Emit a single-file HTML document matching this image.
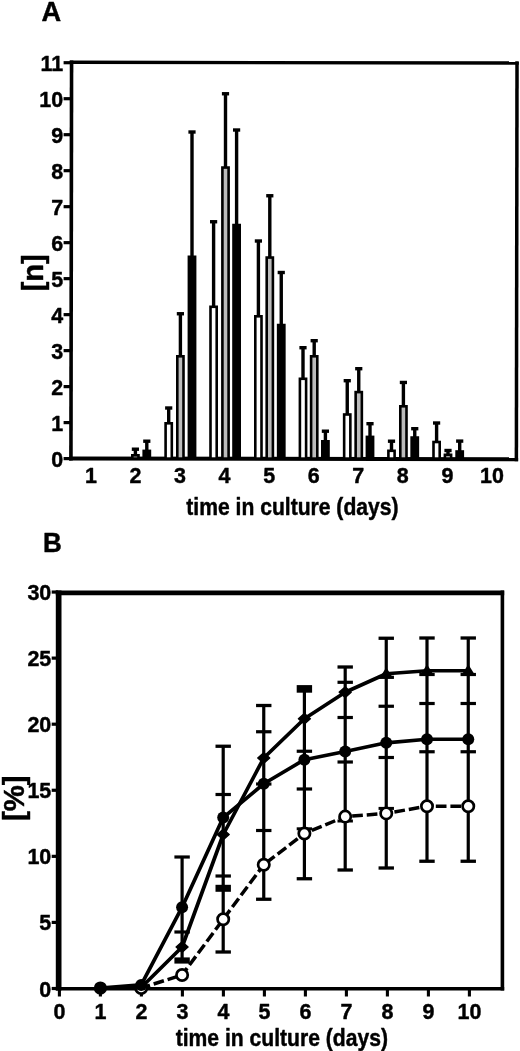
<!DOCTYPE html>
<html><head><meta charset="utf-8"><title>Figure</title>
<style>
html,body{margin:0;padding:0;background:#fff;}
svg{display:block;filter:blur(0.45px);}
text{font-family:"Liberation Sans",Arial,Helvetica,sans-serif;font-weight:bold;fill:#000;stroke:#000;stroke-width:0.45px;stroke-linejoin:round;}
.k{stroke:#000;fill:none;}
</style></head><body>
<svg width="520" height="1051" viewBox="0 0 520 1051">
<rect x="0" y="0" width="520" height="1051" fill="#fff"/>

<text transform="translate(41.5 20.5) scale(1.0 1)" font-size="27.2">A</text>
<g class="k" transform="rotate(0.09 294 260.6)">
<path stroke-width="3.6" d="M71.25 60.95V460.9"/>
<path stroke-width="3.4" d="M69.45 62.65H518.45"/>
<path stroke-width="3.5" d="M516.7 60.95V460.9"/>
<path stroke-width="4.1" d="M69.45 458.85H518.45"/>
</g>
<path class="k" stroke-width="3.2" d="M63.6 458.60H71"/>
<text transform="translate(63.2 466.50) scale(0.95 1)" font-size="22.6" text-anchor="end">0</text>
<path class="k" stroke-width="3.2" d="M63.6 422.61H71"/>
<text transform="translate(63.2 430.51) scale(0.95 1)" font-size="22.6" text-anchor="end">1</text>
<path class="k" stroke-width="3.2" d="M63.6 386.62H71"/>
<text transform="translate(63.2 394.52) scale(0.95 1)" font-size="22.6" text-anchor="end">2</text>
<path class="k" stroke-width="3.2" d="M63.6 350.63H71"/>
<text transform="translate(63.2 358.53) scale(0.95 1)" font-size="22.6" text-anchor="end">3</text>
<path class="k" stroke-width="3.2" d="M63.6 314.64H71"/>
<text transform="translate(63.2 322.54) scale(0.95 1)" font-size="22.6" text-anchor="end">4</text>
<path class="k" stroke-width="3.2" d="M63.6 278.65H71"/>
<text transform="translate(63.2 286.55) scale(0.95 1)" font-size="22.6" text-anchor="end">5</text>
<path class="k" stroke-width="3.2" d="M63.6 242.66H71"/>
<text transform="translate(63.2 250.56) scale(0.95 1)" font-size="22.6" text-anchor="end">6</text>
<path class="k" stroke-width="3.2" d="M63.6 206.67H71"/>
<text transform="translate(63.2 214.57) scale(0.95 1)" font-size="22.6" text-anchor="end">7</text>
<path class="k" stroke-width="3.2" d="M63.6 170.68H71"/>
<text transform="translate(63.2 178.58) scale(0.95 1)" font-size="22.6" text-anchor="end">8</text>
<path class="k" stroke-width="3.2" d="M63.6 134.69H71"/>
<text transform="translate(63.2 142.59) scale(0.95 1)" font-size="22.6" text-anchor="end">9</text>
<path class="k" stroke-width="3.2" d="M63.6 98.70H71"/>
<text transform="translate(63.2 106.60) scale(0.95 1)" font-size="22.6" text-anchor="end">10</text>
<path class="k" stroke-width="3.2" d="M63.6 62.71H71"/>
<text transform="translate(63.2 70.61) scale(0.95 1)" font-size="22.6" text-anchor="end">11</text>
<text transform="translate(90.90 482.6) scale(0.95 1)" font-size="22.6" text-anchor="middle">1</text>
<text transform="translate(135.46 482.6) scale(0.95 1)" font-size="22.6" text-anchor="middle">2</text>
<text transform="translate(180.02 482.6) scale(0.95 1)" font-size="22.6" text-anchor="middle">3</text>
<text transform="translate(224.58 482.6) scale(0.95 1)" font-size="22.6" text-anchor="middle">4</text>
<text transform="translate(269.14 482.6) scale(0.95 1)" font-size="22.6" text-anchor="middle">5</text>
<text transform="translate(313.70 482.6) scale(0.95 1)" font-size="22.6" text-anchor="middle">6</text>
<text transform="translate(358.26 482.6) scale(0.95 1)" font-size="22.6" text-anchor="middle">7</text>
<text transform="translate(402.82 482.6) scale(0.95 1)" font-size="22.6" text-anchor="middle">8</text>
<text transform="translate(447.38 482.6) scale(0.95 1)" font-size="22.6" text-anchor="middle">9</text>
<text transform="translate(491.94 482.6) scale(0.95 1)" font-size="22.6" text-anchor="middle">10</text>
<text transform="translate(292.4 514.6) scale(0.91 1)" font-size="23.2" text-anchor="middle">time in culture (days)</text>
<text transform="translate(42.6 272.8) rotate(-90)" font-size="29" stroke-width="1" text-anchor="middle">[n]</text>
<path class="k" stroke-width="3.4" d="M135.4 455V449.2"/>
<path class="k" stroke-width="3.4" d="M131.8 449.2H139.0"/>
<rect x="132.30" y="455.30" width="6.2" height="3.30" fill="#bcbcbc" stroke="#000" stroke-width="2.6"/>
<path class="k" stroke-width="3.4" d="M146.8 450.6V441.2"/>
<path class="k" stroke-width="3.4" d="M143.20000000000002 441.2H150.4"/>
<rect x="143.70" y="450.90" width="6.2" height="7.70" fill="#000" stroke="#000" stroke-width="2.6"/>
<path class="k" stroke-width="3.4" d="M168.7 423V408"/>
<path class="k" stroke-width="3.4" d="M165.1 408H172.29999999999998"/>
<rect x="165.60" y="423.30" width="6.2" height="35.30" fill="#fff" stroke="#000" stroke-width="2.6"/>
<path class="k" stroke-width="3.4" d="M180.4 356V313.75"/>
<path class="k" stroke-width="3.4" d="M176.8 313.75H184.0"/>
<rect x="177.30" y="356.30" width="6.2" height="102.30" fill="#bcbcbc" stroke="#000" stroke-width="2.6"/>
<path class="k" stroke-width="3.4" d="M192 256.5V132"/>
<path class="k" stroke-width="3.4" d="M188.4 132H195.6"/>
<rect x="188.90" y="256.80" width="6.2" height="201.80" fill="#000" stroke="#000" stroke-width="2.6"/>
<path class="k" stroke-width="3.4" d="M213.6 306.5V221.75"/>
<path class="k" stroke-width="3.4" d="M210.0 221.75H217.2"/>
<rect x="210.50" y="306.80" width="6.2" height="151.80" fill="#fff" stroke="#000" stroke-width="2.6"/>
<path class="k" stroke-width="3.4" d="M225.5 167.25V93.75"/>
<path class="k" stroke-width="3.4" d="M221.9 93.75H229.1"/>
<rect x="222.40" y="167.55" width="6.2" height="291.05" fill="#bcbcbc" stroke="#000" stroke-width="2.6"/>
<path class="k" stroke-width="3.4" d="M236.6 224.75V130"/>
<path class="k" stroke-width="3.4" d="M233.0 130H240.2"/>
<rect x="233.50" y="225.05" width="6.2" height="233.55" fill="#000" stroke="#000" stroke-width="2.6"/>
<path class="k" stroke-width="3.4" d="M258.4 316V241"/>
<path class="k" stroke-width="3.4" d="M254.79999999999998 241H262.0"/>
<rect x="255.30" y="316.30" width="6.2" height="142.30" fill="#fff" stroke="#000" stroke-width="2.6"/>
<path class="k" stroke-width="3.4" d="M269.8 257.25V195.75"/>
<path class="k" stroke-width="3.4" d="M266.2 195.75H273.40000000000003"/>
<rect x="266.70" y="257.55" width="6.2" height="201.05" fill="#bcbcbc" stroke="#000" stroke-width="2.6"/>
<path class="k" stroke-width="3.4" d="M281.25 324.75V272.5"/>
<path class="k" stroke-width="3.4" d="M277.65 272.5H284.85"/>
<rect x="278.15" y="325.05" width="6.2" height="133.55" fill="#000" stroke="#000" stroke-width="2.6"/>
<path class="k" stroke-width="3.4" d="M303 378.5V347.7"/>
<path class="k" stroke-width="3.4" d="M299.4 347.7H306.6"/>
<rect x="299.90" y="378.80" width="6.2" height="79.80" fill="#fff" stroke="#000" stroke-width="2.6"/>
<path class="k" stroke-width="3.4" d="M314.2 356V340.7"/>
<path class="k" stroke-width="3.4" d="M310.59999999999997 340.7H317.8"/>
<rect x="311.10" y="356.30" width="6.2" height="102.30" fill="#bcbcbc" stroke="#000" stroke-width="2.6"/>
<path class="k" stroke-width="3.4" d="M325.4 441V431.2"/>
<path class="k" stroke-width="3.4" d="M321.79999999999995 431.2H329.0"/>
<rect x="322.30" y="441.30" width="6.2" height="17.30" fill="#000" stroke="#000" stroke-width="2.6"/>
<path class="k" stroke-width="3.4" d="M347.25 414.2V380.7"/>
<path class="k" stroke-width="3.4" d="M343.65 380.7H350.85"/>
<rect x="344.15" y="414.50" width="6.2" height="44.10" fill="#fff" stroke="#000" stroke-width="2.6"/>
<path class="k" stroke-width="3.4" d="M358.75 391.8V368.7"/>
<path class="k" stroke-width="3.4" d="M355.15 368.7H362.35"/>
<rect x="355.65" y="392.10" width="6.2" height="66.50" fill="#bcbcbc" stroke="#000" stroke-width="2.6"/>
<path class="k" stroke-width="3.4" d="M370 436.6V423.7"/>
<path class="k" stroke-width="3.4" d="M366.4 423.7H373.6"/>
<rect x="366.90" y="436.90" width="6.2" height="21.70" fill="#000" stroke="#000" stroke-width="2.6"/>
<path class="k" stroke-width="3.4" d="M391.5 450.5V441.2"/>
<path class="k" stroke-width="3.4" d="M387.9 441.2H395.1"/>
<rect x="388.40" y="450.80" width="6.2" height="7.80" fill="#fff" stroke="#000" stroke-width="2.6"/>
<path class="k" stroke-width="3.4" d="M403.4 406V382.45"/>
<path class="k" stroke-width="3.4" d="M399.79999999999995 382.45H407.0"/>
<rect x="400.30" y="406.30" width="6.2" height="52.30" fill="#bcbcbc" stroke="#000" stroke-width="2.6"/>
<path class="k" stroke-width="3.4" d="M414.75 437.25V428.7"/>
<path class="k" stroke-width="3.4" d="M411.15 428.7H418.35"/>
<rect x="411.65" y="437.55" width="6.2" height="21.05" fill="#000" stroke="#000" stroke-width="2.6"/>
<path class="k" stroke-width="3.4" d="M436.6 441.7V423.0"/>
<path class="k" stroke-width="3.4" d="M433.0 423.0H440.20000000000005"/>
<rect x="433.50" y="442.00" width="6.2" height="16.60" fill="#fff" stroke="#000" stroke-width="2.6"/>
<path class="k" stroke-width="3.4" d="M448 454.5V450.5"/>
<path class="k" stroke-width="3.4" d="M444.4 450.5H451.6"/>
<rect x="444.90" y="454.80" width="6.2" height="3.80" fill="#bcbcbc" stroke="#000" stroke-width="2.6"/>
<path class="k" stroke-width="3.4" d="M459.7 451.2V441.09999999999997"/>
<path class="k" stroke-width="3.4" d="M456.09999999999997 441.09999999999997H463.3"/>
<rect x="456.60" y="451.50" width="6.2" height="7.10" fill="#000" stroke="#000" stroke-width="2.6"/>
<text transform="translate(42.9 551.6) scale(0.93 1)" font-size="28">B</text>
<g class="k">
<path stroke-width="5.7" d="M58.65 590.55V990.4"/>
<path stroke-width="4.7" d="M55.8 592.9H504.2"/>
<path stroke-width="3.6" d="M502.4 590.55V990.4"/>
<path stroke-width="3.5" d="M55.8 988.65H504.2"/>
</g>
<path class="k" stroke-width="3.2" d="M51.7 988.50H58"/>
<text transform="translate(51.3 996.50) scale(0.95 1)" font-size="22.6" text-anchor="end">0</text>
<path class="k" stroke-width="3.2" d="M51.7 922.42H58"/>
<text transform="translate(51.3 930.42) scale(0.95 1)" font-size="22.6" text-anchor="end">5</text>
<path class="k" stroke-width="3.2" d="M51.7 856.35H58"/>
<text transform="translate(51.3 864.35) scale(0.95 1)" font-size="22.6" text-anchor="end">10</text>
<path class="k" stroke-width="3.2" d="M51.7 790.27H58"/>
<text transform="translate(51.3 798.27) scale(0.95 1)" font-size="22.6" text-anchor="end">15</text>
<path class="k" stroke-width="3.2" d="M51.7 724.20H58"/>
<text transform="translate(51.3 732.20) scale(0.95 1)" font-size="22.6" text-anchor="end">20</text>
<path class="k" stroke-width="3.2" d="M51.7 658.12H58"/>
<text transform="translate(51.3 666.12) scale(0.95 1)" font-size="22.6" text-anchor="end">25</text>
<path class="k" stroke-width="3.2" d="M51.7 592.05H58"/>
<text transform="translate(51.3 600.05) scale(0.95 1)" font-size="22.6" text-anchor="end">30</text>
<path class="k" stroke-width="3.1" d="M59.40 988.4V996.5"/>
<text transform="translate(59.40 1018.8) scale(0.95 1)" font-size="22.6" text-anchor="middle">0</text>
<path class="k" stroke-width="3.1" d="M100.40 988.4V996.5"/>
<text transform="translate(100.40 1018.8) scale(0.95 1)" font-size="22.6" text-anchor="middle">1</text>
<path class="k" stroke-width="3.1" d="M141.40 988.4V996.5"/>
<text transform="translate(141.40 1018.8) scale(0.95 1)" font-size="22.6" text-anchor="middle">2</text>
<path class="k" stroke-width="3.1" d="M182.40 988.4V996.5"/>
<text transform="translate(182.40 1018.8) scale(0.95 1)" font-size="22.6" text-anchor="middle">3</text>
<path class="k" stroke-width="3.1" d="M223.40 988.4V996.5"/>
<text transform="translate(223.40 1018.8) scale(0.95 1)" font-size="22.6" text-anchor="middle">4</text>
<path class="k" stroke-width="3.1" d="M264.40 988.4V996.5"/>
<text transform="translate(264.40 1018.8) scale(0.95 1)" font-size="22.6" text-anchor="middle">5</text>
<path class="k" stroke-width="3.1" d="M305.40 988.4V996.5"/>
<text transform="translate(305.40 1018.8) scale(0.95 1)" font-size="22.6" text-anchor="middle">6</text>
<path class="k" stroke-width="3.1" d="M346.40 988.4V996.5"/>
<text transform="translate(346.40 1018.8) scale(0.95 1)" font-size="22.6" text-anchor="middle">7</text>
<path class="k" stroke-width="3.1" d="M387.40 988.4V996.5"/>
<text transform="translate(387.40 1018.8) scale(0.95 1)" font-size="22.6" text-anchor="middle">8</text>
<path class="k" stroke-width="3.1" d="M428.40 988.4V996.5"/>
<text transform="translate(428.40 1018.8) scale(0.95 1)" font-size="22.6" text-anchor="middle">9</text>
<path class="k" stroke-width="3.1" d="M469.40 988.4V996.5"/>
<text transform="translate(469.40 1018.8) scale(0.95 1)" font-size="22.6" text-anchor="middle">10</text>
<text transform="translate(281.8 1045.5) scale(0.91 1)" font-size="23.2" text-anchor="middle">time in culture (days)</text>
<text transform="translate(24.2 798.2) rotate(-90)" font-size="29.4" stroke-width="1" text-anchor="middle">[%]</text>
<path class="k" stroke-width="3.2" d="M182.1 857V960.5"/>
<path class="k" stroke-width="3.2" d="M174.4 857H189.79999999999998"/>
<path class="k" stroke-width="3.2" d="M174.4 932H189.79999999999998"/>
<path class="k" stroke-width="6.2" d="M174.4 960.5H189.79999999999998"/>
<path class="k" stroke-width="3.2" d="M223.2 746.25V952"/>
<path class="k" stroke-width="3.3" d="M215.5 746.25H230.89999999999998"/>
<path class="k" stroke-width="3.2" d="M215.5 794.5H230.89999999999998"/>
<path class="k" stroke-width="3.2" d="M215.5 876H230.89999999999998"/>
<path class="k" stroke-width="7" d="M215.5 888.3H230.89999999999998"/>
<path class="k" stroke-width="3.3" d="M215.5 952H230.89999999999998"/>
<path class="k" stroke-width="3.2" d="M263.75 705.5V899.25"/>
<path class="k" stroke-width="3.3" d="M256.05 705.5H271.45"/>
<path class="k" stroke-width="3.2" d="M256.05 731.75H271.45"/>
<path class="k" stroke-width="3.2" d="M256.05 784H271.45"/>
<path class="k" stroke-width="3.2" d="M256.05 830.5H271.45"/>
<path class="k" stroke-width="3.3" d="M256.05 899.25H271.45"/>
<path class="k" stroke-width="3.2" d="M304.4 688V878.75"/>
<path class="k" stroke-width="7.6" d="M296.7 688.9H312.09999999999997"/>
<path class="k" stroke-width="3.2" d="M296.7 751.25H312.09999999999997"/>
<path class="k" stroke-width="3.2" d="M296.7 789H312.09999999999997"/>
<path class="k" stroke-width="3.0" d="M296.7 828.8H312.09999999999997"/>
<path class="k" stroke-width="3.3" d="M296.7 878.75H312.09999999999997"/>
<path class="k" stroke-width="3.2" d="M345.2 667V870"/>
<path class="k" stroke-width="3.3" d="M337.5 667H352.9"/>
<path class="k" stroke-width="3.2" d="M337.5 682.3H352.9"/>
<path class="k" stroke-width="3.2" d="M337.5 717.5H352.9"/>
<path class="k" stroke-width="3.2" d="M337.5 762H352.9"/>
<path class="k" stroke-width="3.0" d="M337.5 821H352.9"/>
<path class="k" stroke-width="3.3" d="M337.5 870H352.9"/>
<path class="k" stroke-width="3.2" d="M386.25 638.25V868"/>
<path class="k" stroke-width="3.3" d="M378.55 638.25H393.95"/>
<path class="k" stroke-width="3.2" d="M378.55 677.3H393.95"/>
<path class="k" stroke-width="3.2" d="M378.55 706.25H393.95"/>
<path class="k" stroke-width="3.2" d="M378.55 757.5H393.95"/>
<path class="k" stroke-width="3.0" d="M378.55 808.4H393.95"/>
<path class="k" stroke-width="3.3" d="M378.55 868H393.95"/>
<path class="k" stroke-width="3.2" d="M427 638V861.25"/>
<path class="k" stroke-width="3.3" d="M419.3 638H434.7"/>
<path class="k" stroke-width="3.2" d="M419.3 674.5H434.7"/>
<path class="k" stroke-width="3.2" d="M419.3 703.5H434.7"/>
<path class="k" stroke-width="3.2" d="M419.3 751.75H434.7"/>
<path class="k" stroke-width="3.3" d="M419.3 861.25H434.7"/>
<path class="k" stroke-width="3.2" d="M468.25 638V861.25"/>
<path class="k" stroke-width="3.3" d="M460.55 638H475.95"/>
<path class="k" stroke-width="3.2" d="M460.55 674.5H475.95"/>
<path class="k" stroke-width="3.2" d="M460.55 703.5H475.95"/>
<path class="k" stroke-width="3.2" d="M460.55 751.75H475.95"/>
<path class="k" stroke-width="3.3" d="M460.55 861.25H475.95"/>
<path class="k" stroke-width="3.7" stroke-linejoin="round" d="M100.4 988 L141.2 987.5 L182.1 947 L223.2 834.5 L263.75 758 L304.4 718.75 L345.2 692.2 L386.25 673.75 L427 670.75 L468.25 670.75"/>
<path class="k" stroke-width="3.7" stroke-linejoin="round" d="M100.4 988 L141.2 984.9 L182.1 907.2 L223.2 817.6 L263.75 783.75 L304.4 759.7 L345.2 751.5 L386.25 742.8 L427 739.25 L468.25 739.25"/>
<path class="k" stroke-width="3.5" stroke-dasharray="10.7 3.9" stroke-dashoffset="1.50" d="M141.2 988L182.1 975.0"/>
<path class="k" stroke-width="3.5" stroke-dasharray="10.7 3.9" stroke-dashoffset="2.20" d="M182.1 975.0L223.2 919.3"/>
<path class="k" stroke-width="3.5" stroke-dasharray="10.7 3.9" stroke-dashoffset="13.90" d="M223.2 919.3L263.75 864.7"/>
<path class="k" stroke-width="3.5" stroke-dasharray="10.7 3.9" stroke-dashoffset="11.70" d="M263.75 864.7L304.4 833.5"/>
<path class="k" stroke-width="3.5" stroke-dasharray="10.7 3.9" stroke-dashoffset="6.60" d="M304.4 833.5L345.2 816.6"/>
<path class="k" stroke-width="3.5" stroke-dasharray="10.7 3.9" stroke-dashoffset="7.60" d="M345.2 816.6L386.25 813.4"/>
<path class="k" stroke-width="3.5" stroke-dasharray="10.7 3.9" stroke-dashoffset="6.33" d="M386.25 813.4L427 806.25"/>
<path class="k" stroke-width="3.5" stroke-dasharray="10.7 3.9" stroke-dashoffset="5.80" d="M427 806.25L468.25 806.25"/>
<path d="M94.5 988L100.4 982.8L106.30000000000001 988L100.4 993.2Z" fill="#000" stroke="#000" stroke-width="1.6" stroke-linejoin="round"/>
<path d="M135.29999999999998 987.5L141.2 982.3L147.1 987.5L141.2 992.7Z" fill="#000" stroke="#000" stroke-width="1.6" stroke-linejoin="round"/>
<path d="M176.2 947L182.1 941.8L188.0 947L182.1 952.2Z" fill="#000" stroke="#000" stroke-width="1.6" stroke-linejoin="round"/>
<path d="M217.29999999999998 834.5L223.2 829.3L229.1 834.5L223.2 839.7Z" fill="#000" stroke="#000" stroke-width="1.6" stroke-linejoin="round"/>
<path d="M257.85 758L263.75 752.8L269.65 758L263.75 763.2Z" fill="#000" stroke="#000" stroke-width="1.6" stroke-linejoin="round"/>
<path d="M298.5 718.75L304.4 713.55L310.29999999999995 718.75L304.4 723.95Z" fill="#000" stroke="#000" stroke-width="1.6" stroke-linejoin="round"/>
<path d="M339.3 692.2L345.2 687.0L351.09999999999997 692.2L345.2 697.4000000000001Z" fill="#000" stroke="#000" stroke-width="1.6" stroke-linejoin="round"/>
<path d="M379.25 678.55H393.25L386.25 667.35Z" fill="#000"/>
<path d="M420 675.55H434L427 664.35Z" fill="#000"/>
<path d="M461.25 675.55H475.25L468.25 664.35Z" fill="#000"/>
<circle cx="141.2" cy="988" r="5.65" fill="#fff" stroke="#000" stroke-width="2.7"/>
<circle cx="182.1" cy="975.0" r="5.65" fill="#fff" stroke="#000" stroke-width="2.7"/>
<circle cx="223.2" cy="919.3" r="5.65" fill="#fff" stroke="#000" stroke-width="2.7"/>
<circle cx="263.75" cy="864.7" r="5.65" fill="#fff" stroke="#000" stroke-width="2.7"/>
<circle cx="304.4" cy="833.5" r="5.65" fill="#fff" stroke="#000" stroke-width="2.7"/>
<circle cx="345.2" cy="816.6" r="5.65" fill="#fff" stroke="#000" stroke-width="2.7"/>
<circle cx="386.25" cy="813.4" r="5.65" fill="#fff" stroke="#000" stroke-width="2.7"/>
<circle cx="427" cy="806.25" r="5.65" fill="#fff" stroke="#000" stroke-width="2.7"/>
<circle cx="468.25" cy="806.25" r="5.65" fill="#fff" stroke="#000" stroke-width="2.7"/>
<circle cx="100.4" cy="988" r="6.6" fill="#000"/>
<circle cx="141.2" cy="984.9" r="6.0" fill="#000"/>
<circle cx="182.1" cy="907.2" r="6.0" fill="#000"/>
<circle cx="223.2" cy="817.6" r="6.0" fill="#000"/>
<circle cx="263.75" cy="783.75" r="6.0" fill="#000"/>
<circle cx="304.4" cy="759.7" r="6.0" fill="#000"/>
<circle cx="345.2" cy="751.5" r="6.0" fill="#000"/>
<circle cx="386.25" cy="742.8" r="6.0" fill="#000"/>
<circle cx="427" cy="739.25" r="6.0" fill="#000"/>
<circle cx="468.25" cy="739.25" r="6.0" fill="#000"/>
</svg></body></html>
